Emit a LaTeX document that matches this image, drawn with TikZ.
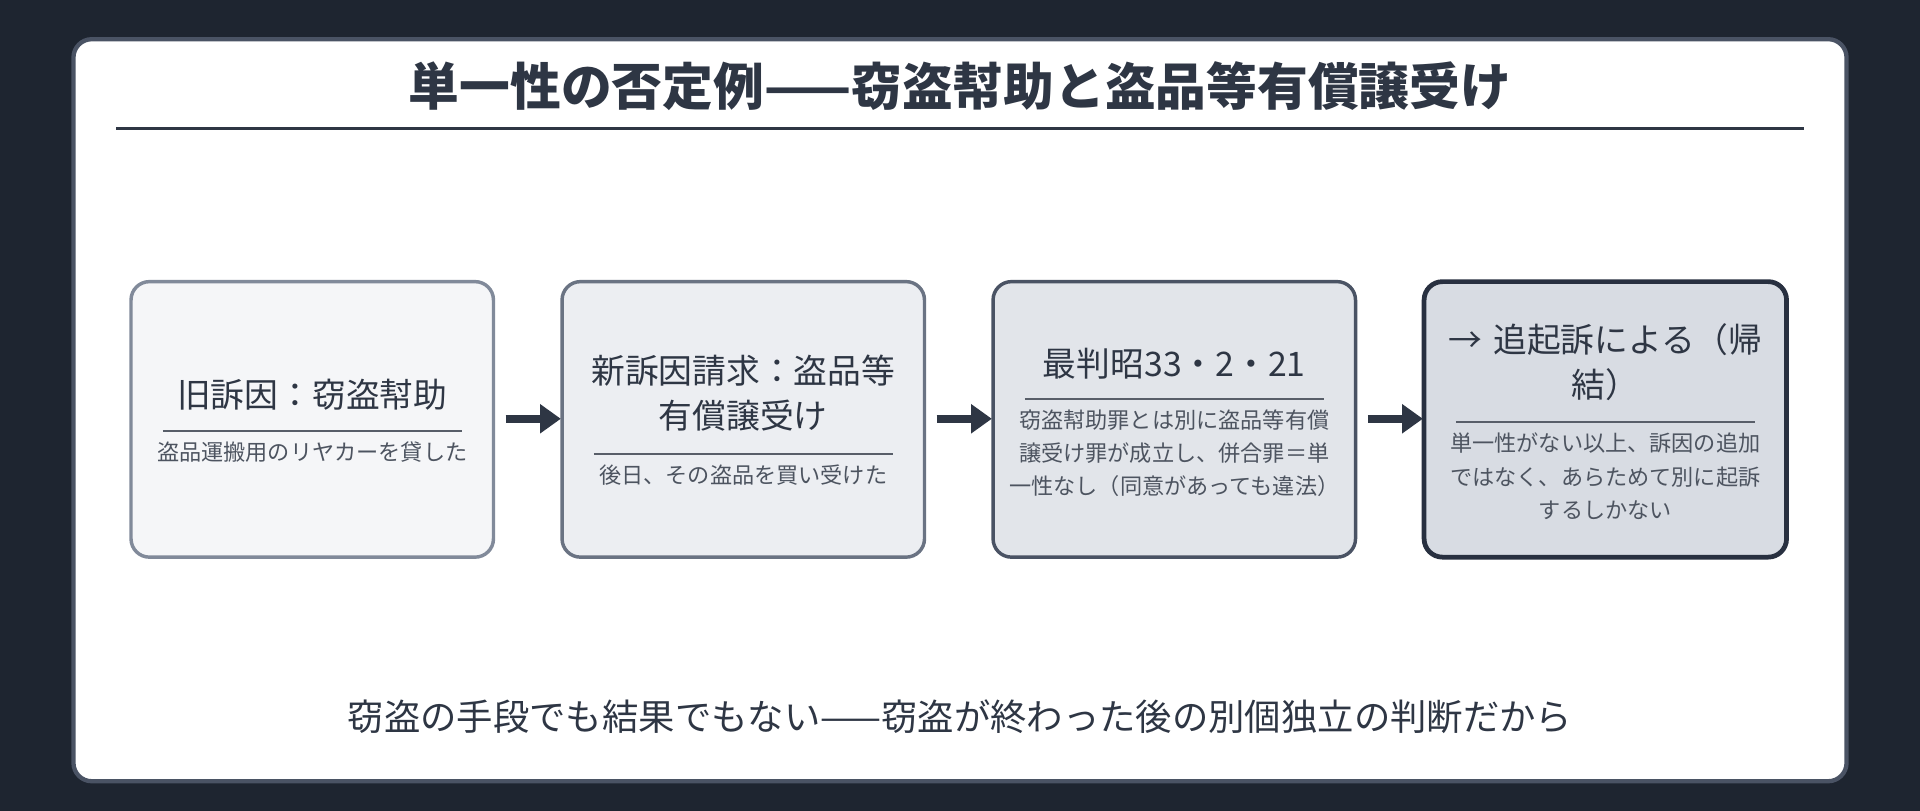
\documentclass[tikz,border=0pt]{standalone}
\usepackage{fontspec}
\setmainfont{Noto Sans CJK JP}
\usetikzlibrary{arrows.meta}
\definecolor{bgdark}{HTML}{1E2530}
\definecolor{ink}{HTML}{2E3644}
\definecolor{fillA}{HTML}{F5F6F8}
\definecolor{fillB}{HTML}{ECEEF2}
\definecolor{fillC}{HTML}{E2E5EA}
\definecolor{fillD}{HTML}{D8DCE3}
\definecolor{lineA}{HTML}{818A9A}
\definecolor{lineB}{HTML}{6A7383}
\definecolor{lineC}{HTML}{4A5364}
\definecolor{lineD}{HTML}{283040}
\begin{document}
\begin{tikzpicture}[x=0.02cm,y=-0.02cm,
  step box/.style={draw,rounded corners=0.3cm,line width=1.6pt},
  head/.style={font=\fontsize{15.7}{21}\selectfont,text=ink,align=center,text width=5.5cm},
  note/.style={font=\fontsize{10.3}{15.4}\selectfont,text=ink!85,align=center,text width=5.5cm},
  divider/.style={draw=ink!80,line width=0.9pt},
  flow/.style={-{Triangle[length=0.34cm,width=0.46cm]},line width=0.13cm,draw=ink}]
  \useasboundingbox[fill=bgdark] (0,0) rectangle (1568,662);
  \draw[fill=white,draw=lineC,line width=2pt,rounded corners=0.3cm] (60,32) rectangle (1508,638);
  \node[font=\fontsize{23.6}{28}\bfseries\selectfont,text=ink] (title) at (784,70) {単一性の否定例——窃盗幇助と盗品等有償譲受け};
  \draw[ink,line width=1.2pt] (95,105) -- (1473,105);

  % steps
  \draw[step box,fill=fillA,draw=lineA] (107,230) rectangle (403,455);
  \draw[step box,fill=fillB,draw=lineB] (459,230) rectangle (755,455);
  \draw[step box,fill=fillC,draw=lineC] (811,230) rectangle (1107,455);
  \draw[step box,fill=fillD,draw=lineD,line width=2.2pt] (1163,230) rectangle (1459,455);

  \node[head] (h1) at (255,322) {旧訴因：窃盗幇助};
  \draw[divider] (133,352) -- (377,352);
  \node[note] (n1) at (255,369) {盗品運搬用のリヤカーを貸した};

  \node[head] (h2) at (607,321) {新訴因請求：盗品等\\有償譲受け};
  \draw[divider] (485,371) -- (729,371);
  \node[note] (n2) at (607,388) {後日、その盗品を買い受けた};

  \node[head] (h3) at (959,297) {最判昭33・2・21};
  \draw[divider] (837,326) -- (1081,326);
  \node[note] (n3) at (959,370) {窃盗幇助罪とは別に盗品等有償\\譲受け罪が成立し、併合罪＝単\\一性なし（同意があっても違法）};

  \node[head] (h4) at (1311,296) {→ 追起訴による（帰\\結）};
  \draw[divider] (1189,345) -- (1433,345);
  \node[note] (n4) at (1311,389) {単一性がない以上、訴因の追加\\ではなく、あらためて別に起訴\\するしかない};

  \coordinate (a1) at (413,342); \coordinate (b1) at (458,342);
  \coordinate (a2) at (765,342); \coordinate (b2) at (810,342);
  \coordinate (a3) at (1117,342); \coordinate (b3) at (1162,342);
  \foreach \i in {1,2,3} \draw[flow] (a\i) -- (b\i);

  \node[font=\fontsize{16.9}{21}\selectfont,text=ink] (foot) at (784,585) {窃盗の手段でも結果でもない——窃盗が終わった後の別個独立の判断だから};
\end{tikzpicture}
\end{document}
